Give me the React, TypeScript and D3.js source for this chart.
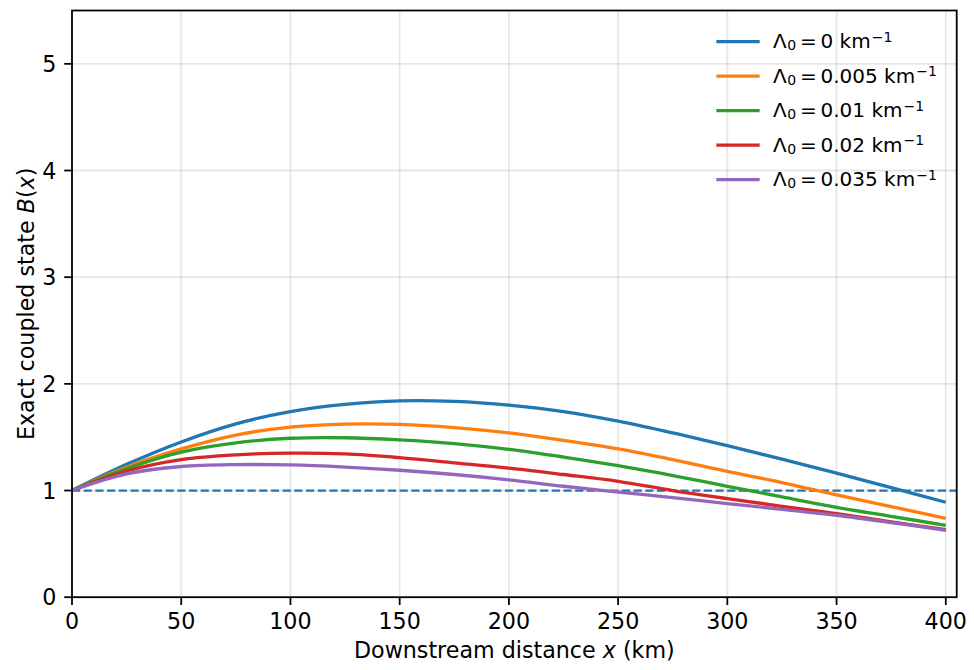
import React, { useEffect, useRef } from "react";
import * as d3 from "d3";

const WIDTH = 974;
const HEIGHT = 670;
const FONT = "DejaVu Sans, sans-serif";
const FS = 22.2;
const LEGEND_FS = 20;

// downstream distance samples (km)
const distances = [0, 25, 50, 75, 100, 125, 150, 175, 200, 225, 250, 275, 300, 325, 350, 375, 400];

const lambdaLabels = ["0", "0.005", "0.01", "0.02", "0.035"];
const lineColors = ["#1f77b4", "#ff7f0e", "#2ca02c", "#d62728", "#9467bd"];

const bLambda0 = [1.0, 1.245, 1.455, 1.625, 1.74, 1.807, 1.84, 1.835, 1.8, 1.74, 1.65, 1.54, 1.42, 1.295, 1.164, 1.027, 0.89];
const bLambda005 = [1.0, 1.22, 1.39, 1.52, 1.595, 1.623, 1.62, 1.59, 1.54, 1.47, 1.39, 1.29, 1.18, 1.075, 0.96, 0.85, 0.74];
const bLambda01 = [1.0, 1.205, 1.36, 1.447, 1.49, 1.495, 1.475, 1.44, 1.386, 1.314, 1.233, 1.14, 1.04, 0.94, 0.843, 0.758, 0.674];
const bLambda02 = [1.0, 1.183, 1.29, 1.335, 1.35, 1.343, 1.308, 1.26, 1.21, 1.15, 1.086, 1.0, 0.924, 0.852, 0.784, 0.705, 0.634];
const bLambda035 = [1.0, 1.155, 1.225, 1.243, 1.24, 1.22, 1.19, 1.15, 1.1, 1.04, 0.986, 0.933, 0.877, 0.824, 0.768, 0.7, 0.627];
const allSeries = [bLambda0, bLambda005, bLambda01, bLambda02, bLambda035];

const xTicks = [0, 50, 100, 150, 200, 250, 300, 350, 400];
const yTicks = [0, 1, 2, 3, 4, 5];
const REFERENCE_LEVEL = 1;

const App = () => {
  const svgRef = useRef<SVGSVGElement | null>(null);

  useEffect(() => {
    const svg = d3.select(svgRef.current);
    svg.selectAll("*").remove();

    const left = 72, right = 956.7, top = 10.5, bottom = 597.2;
    const x = d3.scaleLinear().domain([0, 405]).range([left, right]);
    const y = d3.scaleLinear().domain([0, 5.5]).range([bottom, top]);
    const tickLen = 7.8, spineW = 1.78, lw = 3.33;

    svg.append("rect").attr("width", WIDTH).attr("height", HEIGHT).attr("fill", "white");

    // grid
    const grid = svg.append("g").attr("stroke", "#b0b0b0").attr("stroke-opacity", 0.3).attr("stroke-width", spineW);
    xTicks.forEach((t) => grid.append("line").attr("x1", x(t)).attr("x2", x(t)).attr("y1", top).attr("y2", bottom));
    yTicks.forEach((t) => grid.append("line").attr("x1", left).attr("x2", right).attr("y1", y(t)).attr("y2", y(t)));

    // reference level B = 1
    svg.append("line")
      .attr("x1", left).attr("x2", right)
      .attr("y1", y(REFERENCE_LEVEL)).attr("y2", y(REFERENCE_LEVEL))
      .attr("stroke", "#1f77b4").attr("stroke-width", 2.2)
      .attr("stroke-dasharray", "8.2,3.5");

    const line = d3.line<number>()
      .x((d, i) => x(distances[i]))
      .y((d) => y(d))
      .curve(d3.curveCatmullRom.alpha(0.5));

    allSeries.forEach((s, i) => {
      svg.append("path")
        .datum(s)
        .attr("fill", "none")
        .attr("stroke", lineColors[i])
        .attr("stroke-width", lw)
        .attr("stroke-linejoin", "round")
        .attr("d", line as any);
    });

    // spines
    svg.append("rect")
      .attr("x", left).attr("y", top)
      .attr("width", right - left).attr("height", bottom - top)
      .attr("fill", "none").attr("stroke", "black").attr("stroke-width", spineW);

    // ticks
    const tickG = svg.append("g").attr("font-family", FONT).attr("font-size", FS).attr("fill", "black");
    xTicks.forEach((t) => {
      tickG.append("line").attr("x1", x(t)).attr("x2", x(t)).attr("y1", bottom).attr("y2", bottom + tickLen)
        .attr("stroke", "black").attr("stroke-width", spineW);
      tickG.append("text").attr("x", x(t)).attr("y", 629).attr("text-anchor", "middle").text(t);
    });
    yTicks.forEach((t) => {
      tickG.append("line").attr("x1", left - tickLen).attr("x2", left).attr("y1", y(t)).attr("y2", y(t))
        .attr("stroke", "black").attr("stroke-width", spineW);
      tickG.append("text").attr("x", 56.4).attr("y", y(t)).attr("dy", "0.36em").attr("text-anchor", "end").text(t);
    });

    // axis labels
    const xl = svg.append("text").attr("x", (left + right) / 2).attr("y", 658)
      .attr("text-anchor", "middle").attr("font-family", FONT).attr("font-size", FS);
    xl.append("tspan").text("Downstream distance ");
    xl.append("tspan").attr("font-style", "italic").text("x");
    xl.append("tspan").text(" (km)");

    const yl = svg.append("text")
      .attr("transform", `translate(33.5,${(top + bottom) / 2}) rotate(-90)`)
      .attr("text-anchor", "middle").attr("font-family", FONT).attr("font-size", FS);
    yl.append("tspan").text("Exact coupled state ");
    yl.append("tspan").attr("font-style", "italic").text("B");
    yl.append("tspan").text("(");
    yl.append("tspan").attr("font-style", "italic").text("x");
    yl.append("tspan").text(")");

    // legend, no frame
    const lg = svg.append("g").attr("font-family", FONT).attr("font-size", LEGEND_FS);
    lambdaLabels.forEach((lab, i) => {
      const cy = 41.7 + i * 34.5;
      const base = cy + 6.6;
      lg.append("line").attr("x1", 718).attr("x2", 758).attr("y1", cy).attr("y2", cy)
        .attr("stroke", lineColors[i]).attr("stroke-width", lw).attr("stroke-linecap", "square");
      lg.append("text").attr("x", 773).attr("y", base).text("Λ");
      lg.append("text").attr("x", 787.3).attr("y", base + 2).attr("font-size", LEGEND_FS * 0.7).text("0");
      lg.append("text").attr("x", 800).attr("y", base).text("=");
      const val = lg.append("text").attr("x", 820.5).attr("y", base);
      val.append("tspan").text(`${lab} km`);
      val.append("tspan").attr("dx", 1).attr("dy", -6.6).attr("font-size", LEGEND_FS * 0.7).text("−1");
    });
  }, []);

  return (
    <svg ref={svgRef} width={WIDTH} height={HEIGHT}
      style={{ position: "absolute", left: 0, top: 0, display: "block" }} />
  );
};

export default App;
